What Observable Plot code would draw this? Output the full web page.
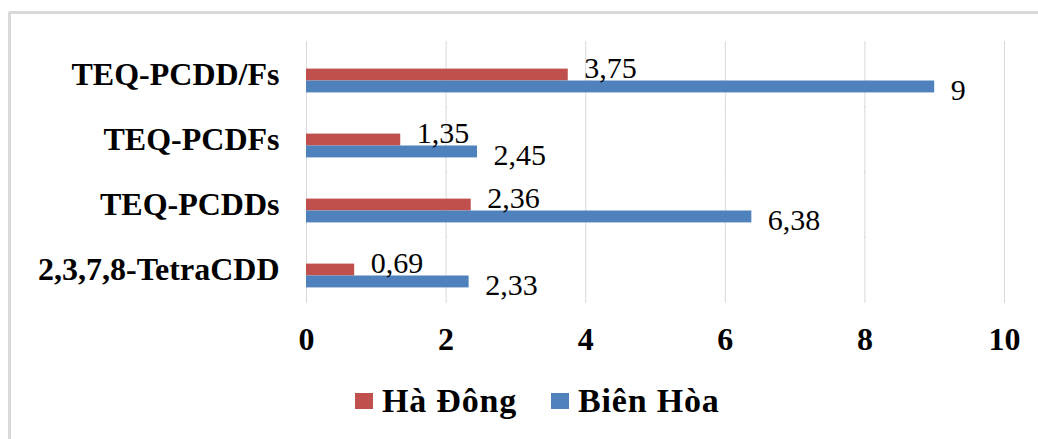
<!DOCTYPE html>
<html><head><meta charset="utf-8">
<script src="https://cdn.jsdelivr.net/npm/d3@7"></script>
<script src="https://cdn.jsdelivr.net/npm/@observablehq/plot@0.6"></script>
<style>
body{margin:0;background:#fff;font-family:"Liberation Serif",serif;}
#frame{position:absolute;left:8px;top:11px;width:1100px;height:500px;border-left:3px solid #d9d9d9;border-top:3px solid #d9d9d9;border-top-left-radius:3px;}
#chart{position:absolute;left:0;top:0;}
#chart svg{font-family:"Liberation Serif",serif;background:transparent;}
#legend{position:absolute;top:382px;left:355px;display:flex;align-items:center;font-weight:bold;font-size:34px;letter-spacing:0.8px;font-family:"Liberation Serif",serif;color:#000;}
.item{display:flex;align-items:center;margin-right:34px;}
.sw{display:inline-block;width:18px;height:16px;margin-right:9px;}
</style></head><body>
<div id="frame"></div>
<div id="chart"></div>
<div id="legend"></div>
<script>
const categories = ["TEQ-PCDD/Fs", "TEQ-PCDFs", "TEQ-PCDDs", "2,3,7,8-TetraCDD"];
const series = ["Hà Đông", "Biên Hòa"];
const haDong = [3.75, 1.35, 2.36, 0.69];
const bienHoa = [9, 2.45, 6.38, 2.33];
const xTicks = [0, 2, 4, 6, 8, 10];
const colors = ["#C0504D", "#4F81BD"];

const rows = [];
categories.forEach((c, i) => {
  rows.push({category: c, series: series[0], value: haDong[i]});
  rows.push({category: c, series: series[1], value: bienHoa[i]});
});
const fmt = v => String(v).replace(".", ",");

const plot = Plot.plot({
  width: 1038,
  height: 369,
  marginLeft: 306,
  marginRight: 34,
  marginTop: 47,
  marginBottom: 60,
  x: {domain: [0, 10]},
  fy: {domain: categories, padding: 0},
  y: {domain: series, axis: null, paddingInner: 0, paddingOuter: 1.73, round: false},
  color: {domain: series, range: colors},
  marks: [
    Plot.gridX({ticks: xTicks, stroke: "#d9d9d9", strokeOpacity: 1, strokeWidth: 1, insetTop: -7, insetBottom: 5}),
    Plot.barX(rows, {fy: "category", y: "series", x: "value", fill: "series"}),
    Plot.text(rows.filter(d => d.series === series[0]), {fy: "category", y: "series", x: "value", text: d => fmt(d.value), textAnchor: "start", dx: 16, dy: -7, fontSize: 30, fill: "#000"}),
    Plot.text(rows.filter(d => d.series === series[1]), {fy: "category", y: "series", x: "value", text: d => fmt(d.value), textAnchor: "start", dx: 16, dy: 3, fontSize: 30, fill: "#000"}),
    Plot.axisX({ticks: xTicks, tickSize: 0, tickPadding: 19, fontSize: 32, fontWeight: "bold", label: null, tickFormat: d => String(d)}),
    Plot.axisFy({anchor: "left", tickSize: 0, tickPadding: 27, dy: -6, fontSize: 32, fontWeight: "bold", label: null})
  ]
});
document.getElementById("chart").appendChild(plot);

const legend = document.getElementById("legend");
series.forEach((s, i) => {
  const item = document.createElement("div");
  item.className = "item";
  const sw = document.createElement("span");
  sw.className = "sw";
  sw.style.background = colors[i];
  const t = document.createElement("span");
  t.textContent = s;
  item.appendChild(sw);
  item.appendChild(t);
  legend.appendChild(item);
});
</script>
</body></html>
